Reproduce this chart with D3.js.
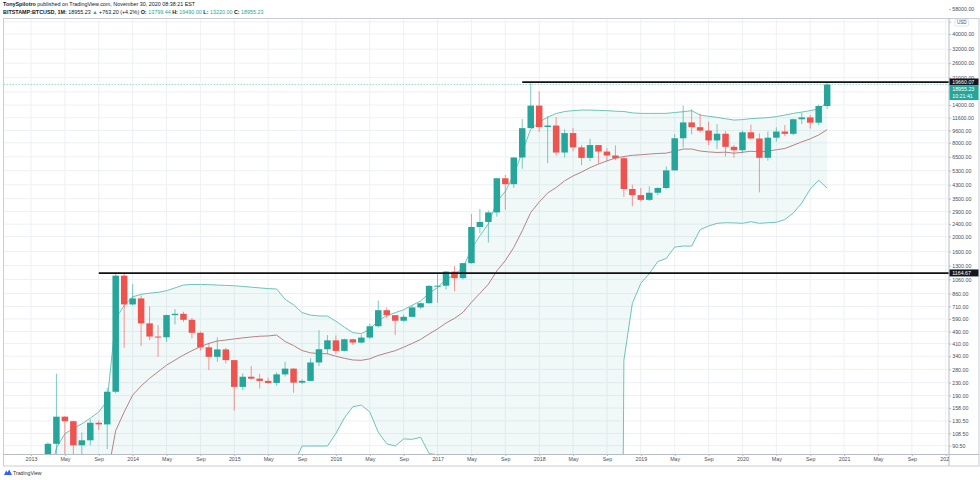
<!DOCTYPE html>
<html><head><meta charset="utf-8">
<script src="https://cdn.jsdelivr.net/npm/d3@7/dist/d3.min.js"></script>
<style>
html,body{margin:0;padding:0;background:#fff;}
svg{display:block;font-family:"Liberation Sans",Arial,Helvetica,sans-serif;}
</style></head><body>
<svg id="chart" width="980" height="480"></svg>
<script>
// ---------- DATA (monthly BITSTAMP:BTCUSD, Jan 2013 .. Nov 2020) ----------
const firstYear = 2013;
const opens = [13.3,20.4,33.4,93,139,130,91,98,127,124,
 201,1120,732,800,553,455,450,625,637,583,
 481,388,337,376,321,216,251,244,236,229,
 260,283,230,236,310,377,430,368,437,416,
 448,530,672,624,575,609,700,745,963,965,
 1190,1080,1348,2303,2480,2856,4735,4338,6440,9940,
 13880,10110,10330,6930,9240,7480,6400,7740,7030,6630,
 6370,4040,3690,3440,3820,4100,5320,8560,10820,10080,
 9590,8290,9150,7540,7170,9350,8530,6410,8630,9450,
 9140,11340,11650,10780,13799.44];
const highs = [20.4,33.5,95,263,140,131,110,134,131,212,
 1163,1153,989,835,710,539,630,683,657,600,
 490,415,450,385,321,264,294,262,247,268,
 313,285,242,330,500,465,462,440,440,467,
 550,775,700,626,628,715,753,975,1153,1200,
 1290,1350,2790,3000,2935,4750,4980,6460,11400,19660.07,
 17170,11790,11700,9770,9990,7760,8500,7750,7400,7690,
 6550,4300,4100,4200,4140,5640,9090,13880,13150,12330,
 10950,10540,9510,7750,9580,10500,9190,9460,10070,10410,
 11440,12470,12080,14100,19490];
const lows = [12.9,19.1,33,50,79,80,65,91,114,86,
 196,385,720,395,431,337,421,545,565,443,
 369,277,313,306,152,206,240,211,226,220,
 252,198,225,235,294,350,351,365,403,411,
 440,520,595,465,566,605,686,740,750,913,
 890,1060,1337,2100,1830,2680,2972,4110,5450,10800,
 9400,5920,6600,6430,7050,5750,6110,5880,6100,6180,
 3600,3130,3350,3380,3690,4030,5320,7460,9070,9330,
 7740,7300,6520,6410,6850,8460,3850,6150,8130,8820,
 8970,10550,9880,10420,13220];
const closes = [20.4,33.4,93,139,130,91,98,127,124,201,
 1120,732,800,553,455,450,625,637,583,481,
 388,337,376,321,216,251,244,236,229,260,
 283,230,236,310,377,430,368,437,416,448,
 530,672,624,575,609,700,745,963,965,1190,
 1080,1348,2303,2480,2856,4735,4338,6440,9940,13880,
 10110,10330,6930,9240,7480,6400,7740,7030,6630,6370,
 4040,3690,3440,3820,4100,5320,8560,10820,10080,9590,
 8290,9150,7540,7170,9350,8530,6410,8630,9450,9140,
 11340,11650,10780,13800,18955.23];
// Bollinger Bands (20, 2); null = band below zero (not drawable on log scale)
const bbUpper = [30,40,52.6,87.4,108,117,125,136,149,176,
 590,720,819,850,865,875,897,935,975,984,
 984,980,975,970,965,955,945,935,925,920,
 790,727,649,625,617,616,571,523,482,475,
 506,577,620,648,677,723,770,864,939,1062,
 1135,1255,1668,2022,2411,3344,3903,4985,6989,9787,
 10856,11710,12340,12710,12890,12990,12990,12930,12880,12770,
 12720,12460,12370,12370,12370,12370,12530,12680,12870,12070,
 11850,11660,11430,11200,11280,11450,11530,11620,11790,12070,
 12370,12610,12890,13190,14600];
const bbBasis = [8,9.5,13.6,20.1,26.3,31,35.7,41.3,47.5,57.3,
 113,149,191,219,245,270,298,321,346,369,
 392,411,426,432,439,446,452,457,459,465,
 423,398,370,357.5,353.6,352.8,339.9,329.9,321.6,320,
 327.2,343.9,356.4,369.1,388.7,411,436.1,472.4,509.2,555.5,
 595.3,651.2,754.6,863,987,1202,1401,1701,2177,2849,
 3328,3811,4126,4559,4903,5188,5537,5841,6124,6383,
 6531,6648,6705,6772,6834,6863,7075,7294,7301,7086,
 6995,6936,6967,6863,6957,7063,6997,7077,7218,7356,
 7721,8119,8486,8985,9728];
const bbLower = [null,null,null,null,null,null,null,null,null,null,
 null,null,null,null,null,null,null,null,null,null,
 null,null,null,null,null,null,null,null,null,null,
 73,68.6,90,90,90,90,108.5,136.5,161,165,
 149,110.5,93,90,100,99.4,102.5,80.6,79,48.7,
 55.9,47.2,null,null,null,null,null,null,null,null,
 null,null,null,null,null,null,null,null,null,null,
 320,743,999,1155,1380,1446,1710,1736,1736,2215,
 2334,2430,2452,2446,2430,2488,2430,2452,2466,2570,
 2830,3280,4035,4605,4086];
const priceTicks = [58000,48000,40000,32000,26000,21000,17000,14000,11600,9600,8000,6500,5300,4300,3500,2900,2400,2000,1600,1300,1060,860,710,590,490,410,340,280,230,190,158,130.5,108.5,90.5];
const hiddenTickLabels = [48000, 17000]; // covered by the "USD" badge and the last-price badge
const timeTickLabels = ["2013","May","Sep","2014","May","Sep","2015","May","Sep","2016","May","Sep","2017","May","Sep","2018","May","Sep","2019","May","Sep","2020","May","Sep","2021","May","Sep","2022"];
const levelValues = [1164.67, 19660.07];
const levelStartMonth = [8, 58];
const lastPrice = 18955.23;
const countdownText = "10:21:41";
const headerAuthor = "TonySpilotro";
const headerRest = " published on TradingView.com, November 30, 2020 08:38:21 EST";
const symbolText = "BITSTAMP:BTCUSD, 1M:";
const changeText = "+763.20 (+4.2%)";

// ---------- LAYOUT ----------
const svg = d3.select("#chart");
const P = {left:3.5, right:949, top:18.5, bottom:454, axisBottom:466, outerRight:979};
const UP = "#26a69a", DOWN = "#ef5350";
const months = d3.range(closes.length);

const x = d3.scaleLinear().domain([0, 108]).range([31, 31 + 108*8.4698]);
const y = d3.scaleLog().domain([80, 50000]).range([454, 19]);

const defs = svg.append("defs");
defs.append("clipPath").attr("id","plotClip").append("rect")
  .attr("x",P.left).attr("y",P.top).attr("width",P.right-P.left).attr("height",P.bottom-P.top);
defs.append("clipPath").attr("id","timeClip").append("rect")
  .attr("x",P.left).attr("y",P.bottom).attr("width",P.right-P.left).attr("height",P.axisBottom-P.bottom);
defs.append("clipPath").attr("id","priceClip").append("rect")
  .attr("x",P.right).attr("y",5).attr("width",31).attr("height",P.bottom-5);

svg.append("rect").attr("width",980).attr("height",480).attr("fill","#fff");

// grid
const grid = svg.append("g").attr("clip-path","url(#plotClip)");
grid.selectAll("line.h").data(priceTicks).join("line").attr("class","h")
  .attr("x1",P.left).attr("x2",P.right).attr("y1",d=>y(d)).attr("y2",d=>y(d))
  .attr("stroke","#edf0f5").attr("stroke-width",1);
const timeTicks = d3.range(0, 109, 4);
grid.selectAll("line.v").data(timeTicks).join("line").attr("class","v")
  .attr("x1",d=>x(d)).attr("x2",d=>x(d)).attr("y1",P.top).attr("y2",P.bottom)
  .attr("stroke","#edf0f5").attr("stroke-width",1);

// Bollinger bands
const plotG = svg.append("g").attr("clip-path","url(#plotClip)");
const lowY = i => bbLower[i] == null ? y(1e-6) : y(bbLower[i]);
plotG.append("path").datum(months)
  .attr("d", d3.area().x(i=>x(i)).y0(lowY).y1(i=>y(bbUpper[i])))
  .attr("fill","rgba(38,166,154,0.07)");
plotG.append("path").datum(months)
  .attr("d", d3.line().x(i=>x(i)).y(i=>y(bbUpper[i])))
  .attr("fill","none").attr("stroke","#6cc4b9").attr("stroke-width",1);
plotG.append("path").datum(months)
  .attr("d", d3.line().x(i=>x(i)).y(lowY))
  .attr("fill","none").attr("stroke","#6cc4b9").attr("stroke-width",1);
plotG.append("path").datum(months)
  .attr("d", d3.line().x(i=>x(i)).y(i=>y(bbBasis[i])))
  .attr("fill","none").attr("stroke","#b98084").attr("stroke-width",1);

// candles
const bw = 6.5;
const cg = plotG.append("g");
cg.selectAll("line.wick").data(months).join("line").attr("class","wick")
  .attr("x1",i=>x(i)).attr("x2",i=>x(i))
  .attr("y1",i=>y(highs[i])).attr("y2",i=>y(lows[i]))
  .attr("stroke",i=>closes[i]>=opens[i]?UP:DOWN).attr("stroke-opacity",0.6).attr("stroke-width",1);
cg.selectAll("rect.body").data(months).join("rect").attr("class","body")
  .attr("x",i=>x(i)-bw/2).attr("width",bw)
  .attr("y",i=>y(Math.max(opens[i],closes[i])))
  .attr("height",i=>Math.max(1, y(Math.min(opens[i],closes[i])) - y(Math.max(opens[i],closes[i]))))
  .attr("fill",i=>closes[i]>=opens[i]?UP:DOWN);

// current price dashed line
plotG.append("line").attr("x1",P.left).attr("x2",P.right)
  .attr("y1",y(lastPrice)).attr("y2",y(lastPrice))
  .attr("stroke",UP).attr("stroke-opacity",0.55).attr("stroke-width",0.8).attr("stroke-dasharray","1.5,1.5");

// horizontal levels
plotG.selectAll("line.level").data(levelValues).join("line").attr("class","level")
  .attr("x1",(d,k)=>x(levelStartMonth[k])).attr("x2",P.right)
  .attr("y1",d=>y(d)).attr("y2",d=>y(d))
  .attr("stroke","#111").attr("stroke-width",1.8);

// borders
svg.append("rect").attr("x",P.left).attr("y",P.top).attr("width",P.outerRight-P.left).attr("height",P.axisBottom-P.top)
  .attr("fill","none").attr("stroke","#c9cdd5").attr("stroke-width",1);
svg.append("line").attr("x1",P.left).attr("x2",P.outerRight).attr("y1",P.bottom+0.5).attr("y2",P.bottom+0.5)
  .attr("stroke","#b8bcc5").attr("stroke-width",1);
svg.append("line").attr("x1",P.right).attr("x2",P.right).attr("y1",P.top).attr("y2",P.axisBottom)
  .attr("stroke","#b8bcc5").attr("stroke-width",1);

// time axis (outer group clips in page coordinates, inner group is translated)
const xAxis = d3.axisBottom(x).tickValues(timeTicks)
  .tickFormat((d,k)=>timeTickLabels[k]).tickSize(2).tickPadding(1.2);
const xg = svg.append("g").attr("clip-path","url(#timeClip)")
  .append("g").attr("transform",`translate(0,${P.bottom})`).call(xAxis);
xg.select(".domain").remove();
xg.selectAll(".tick line").attr("stroke","#b8bcc5");
xg.selectAll(".tick text").attr("font-size",5.3).attr("fill","#4a4e59").attr("font-family",null);

// price axis
const yAxis = d3.axisRight(y).tickValues(priceTicks)
  .tickFormat(d=>hiddenTickLabels.includes(d)?"":d3.format(".2f")(d)).tickSize(2).tickPadding(1.2);
const yg = svg.append("g").attr("clip-path","url(#priceClip)")
  .append("g").attr("transform",`translate(${P.right},0)`).call(yAxis);
yg.select(".domain").remove();
yg.selectAll(".tick line").attr("stroke","#b8bcc5");
yg.selectAll(".tick text").attr("font-size",5.3).attr("fill","#4a4e59").attr("font-family",null);

// currency badge
svg.append("rect").attr("x",955).attr("y",19.5).attr("width",13.5).attr("height",6.5)
  .attr("fill","#fff").attr("stroke","#d1d4dc").attr("stroke-width",0.6).attr("rx",1);
svg.append("text").attr("x",961.75).attr("y",24.3).attr("text-anchor","middle")
  .attr("font-size",4.6).attr("fill","#4a4e59").text("USD");

// price labels
function badge(yc, h, fill, lines){
  svg.append("rect").attr("x",P.right+0.5).attr("y",yc).attr("width",29).attr("height",h).attr("fill",fill);
  lines.forEach((t,k)=>svg.append("text").attr("x",P.right+3.2).attr("y",yc+5.2+k*7)
    .attr("font-size",5.3).attr("fill","#fff").text(t));
}
badge(y(levelValues[1])-3.6, 7, "#131722", [d3.format(".2f")(levelValues[1])]);
badge(y(levelValues[1])+3.5, 14.5, UP, [d3.format(".2f")(lastPrice), countdownText]);
badge(y(levelValues[0])-3.6, 7, "#131722", [d3.format(".2f")(levelValues[0])]);

// header
const h1 = svg.append("text").attr("x",3).attr("y",6.4).attr("font-size",5.4).attr("fill","#131722");
h1.append("tspan").attr("font-weight","bold").text(headerAuthor);
h1.append("tspan").text(headerRest);
const h2 = svg.append("text").attr("x",3).attr("y",13.6).attr("font-size",5.4).attr("fill","#131722");
h2.append("tspan").attr("font-weight","bold").text(symbolText);
h2.append("tspan").text(" " + d3.format(".2f")(lastPrice) + " ");
h2.append("tspan").attr("fill",UP).text("▲");
h2.append("tspan").text(" " + changeText + " ");
const ohlcLast = [["O:",opens[94]],["H:",highs[94]],["L:",lows[94]],["C:",closes[94]]];
ohlcLast.forEach(([k,v])=>{
  h2.append("tspan").attr("font-weight","bold").text(k);
  h2.append("tspan").attr("fill",UP).text(" " + d3.format(".2f")(v) + " ");
});

// TradingView logo
const logo = svg.append("g").attr("transform","translate(4,469)");
logo.append("path").attr("d","M0,6 L2.2,1.5 L3.6,3.6 L5.2,0.5 L8,6 Z").attr("fill","#2962ff");
logo.append("text").attr("x",9).attr("y",5.6).attr("font-size",5.2).attr("fill","#333").text("TradingView");
</script></body></html>
